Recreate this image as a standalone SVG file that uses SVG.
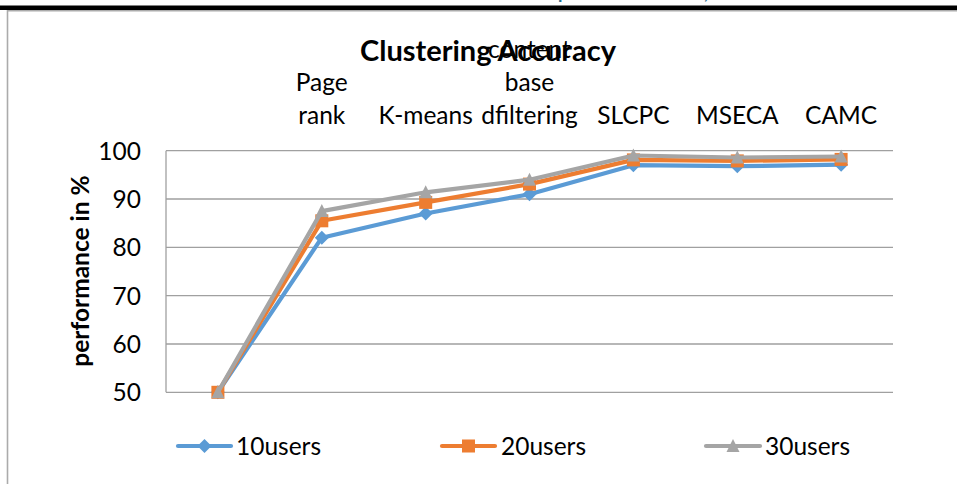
<svg xmlns="http://www.w3.org/2000/svg" width="957" height="484" viewBox="0 0 957 484">
  <style>
    text { font-family: Lato, "Liberation Sans", sans-serif; fill: #000; }
    .lbl { font-size: 24.5px; }
    .tick { font-size: 24.5px; text-anchor: end; }
    .cat { font-size: 24.5px; text-anchor: middle; }
    .title { font-size: 29px; font-weight: bold; text-anchor: middle; }
    .axt { font-size: 24.5px; font-weight: bold; text-anchor: middle; }
    .grid { stroke: #A0A0A0; stroke-width: 1.3; fill: none; }
    .s1 { stroke: #5B9BD5; }
    .s2 { stroke: #ED7D31; }
    .s3 { stroke: #A5A5A5; }
    .ln { stroke-width: 4.2; fill: none; stroke-linejoin: round; stroke-linecap: round; }
    .m1 { fill: #5B9BD5; }
    .m2 { fill: #ED7D31; }
    .m3 { fill: #A5A5A5; }
  </style>
  <defs>
    <path id="dia" d="M0,-7 L7,0 L0,7 L-7,0 Z"/>
    <rect id="sq" x="-6.5" y="-6.5" width="13" height="13"/>
    <path id="tri" d="M0,-7 L6.5,6 L-6.5,6 Z"/>
  </defs>

  <rect x="0" y="0" width="957" height="484" fill="#fff"/>

  <!-- page heading remnants and rule above the chart -->
  <text x="558" y="-1.5" font-size="18" font-weight="bold" style="fill:#1F6E8C">p</text>
  <text x="704" y="-1.5" font-size="18" font-weight="bold" style="fill:#1F6E8C">,</text>
  <rect x="0" y="5.5" width="957" height="4.5" fill="#000"/>

  <!-- chart area border -->
  <path d="M7.5,960 V10.8 H960" stroke="#ABABAB" stroke-width="1.6" fill="none"/>

  <!-- title -->
  <g id="title">
    <text class="title" x="488" y="61">Clustering Accuracy</text>
  </g>

  <!-- category labels -->
  <g id="categories">
    <text class="cat" x="321.8" y="91"><tspan x="321.8">Page</tspan><tspan x="321.8" y="124">rank</tspan></text>
    <text class="cat" x="425.7" y="124">K-means</text>
    <text class="cat" x="529.5" y="58"><tspan x="529.5">content</tspan><tspan x="529.5" y="91">base</tspan><tspan x="529.5" y="124">dfiltering</tspan></text>
    <text class="cat" x="633.4" y="124">SLCPC</text>
    <text class="cat" x="737.3" y="124">MSECA</text>
    <text class="cat" x="841.1" y="124">CAMC</text>
  </g>

  <!-- value axis -->
  <g id="value-axis">
    <path class="grid" d="M166,150.7 H893 M166,199 H893 M166,247.3 H893 M166,295.7 H893 M166,344 H893 M166,392.3 H893 M166,150.7 V392.3"/>
    <text class="tick" x="141" y="159.5">100</text>
    <text class="tick" x="141" y="207.8">90</text>
    <text class="tick" x="141" y="256.1">80</text>
    <text class="tick" x="141" y="304.5">70</text>
    <text class="tick" x="141" y="352.8">60</text>
    <text class="tick" x="141" y="401.1">50</text>
    <text class="axt" transform="translate(89,271) rotate(-90)">performance in %</text>
  </g>

  <!-- data series -->
  <g id="connectors">
    <polyline class="ln s1" points="217.9,392.3 321.8,237.7 425.7,213.5 529.5,194.2 633.4,165.2 737.3,166.2 841.1,164.7"/>
    <g id="series-10users" class="m1">
      <use href="#dia" x="217.9" y="392.3"/>
      <use href="#dia" x="321.8" y="237.7"/>
      <use href="#dia" x="425.7" y="213.5"/>
      <use href="#dia" x="529.5" y="194.2"/>
      <use href="#dia" x="633.4" y="165.2"/>
      <use href="#dia" x="737.3" y="166.2"/>
      <use href="#dia" x="841.1" y="164.7"/>
    </g>
    <polyline class="ln s2" points="217.9,392.3 321.8,220.8 425.7,202.4 529.5,184.1 633.4,159.9 737.3,160.9 841.1,159.4"/>
    <g id="series-20users" class="m2">
      <use href="#sq" x="217.9" y="392.3"/>
      <use href="#sq" x="321.8" y="220.8"/>
      <use href="#sq" x="425.7" y="202.4"/>
      <use href="#sq" x="529.5" y="184.1"/>
      <use href="#sq" x="633.4" y="159.9"/>
      <use href="#sq" x="737.3" y="160.9"/>
      <use href="#sq" x="841.1" y="159.4"/>
    </g>
    <polyline class="ln s3" points="217.9,392.3 321.8,211.1 425.7,192.3 529.5,179.7 633.4,155.5 737.3,157.5 841.1,156.5"/>
    <g id="series-30users" class="m3">
      <use href="#tri" x="217.9" y="392.3"/>
      <use href="#tri" x="321.8" y="211.1"/>
      <use href="#tri" x="425.7" y="192.3"/>
      <use href="#tri" x="529.5" y="179.7"/>
      <use href="#tri" x="633.4" y="155.5"/>
      <use href="#tri" x="737.3" y="157.5"/>
      <use href="#tri" x="841.1" y="156.5"/>
    </g>
  </g>

  <!-- legend -->
  <g id="legend">
    <g id="legend-10users">
      <line class="ln s1" x1="178" y1="446" x2="231" y2="446"/>
      <use href="#dia" class="m1" x="204.5" y="446"/>
      <text class="lbl" x="236" y="455">10users</text>
    </g>
    <g id="legend-20users">
      <line class="ln s2" x1="442" y1="446" x2="495" y2="446"/>
      <use href="#sq" class="m2" x="468.5" y="446"/>
      <text class="lbl" x="501" y="455">20users</text>
    </g>
    <g id="legend-30users">
      <line class="ln s3" x1="706" y1="446" x2="760" y2="446"/>
      <use href="#tri" class="m3" x="733" y="446"/>
      <text class="lbl" x="765" y="455">30users</text>
    </g>
  </g>
</svg>
